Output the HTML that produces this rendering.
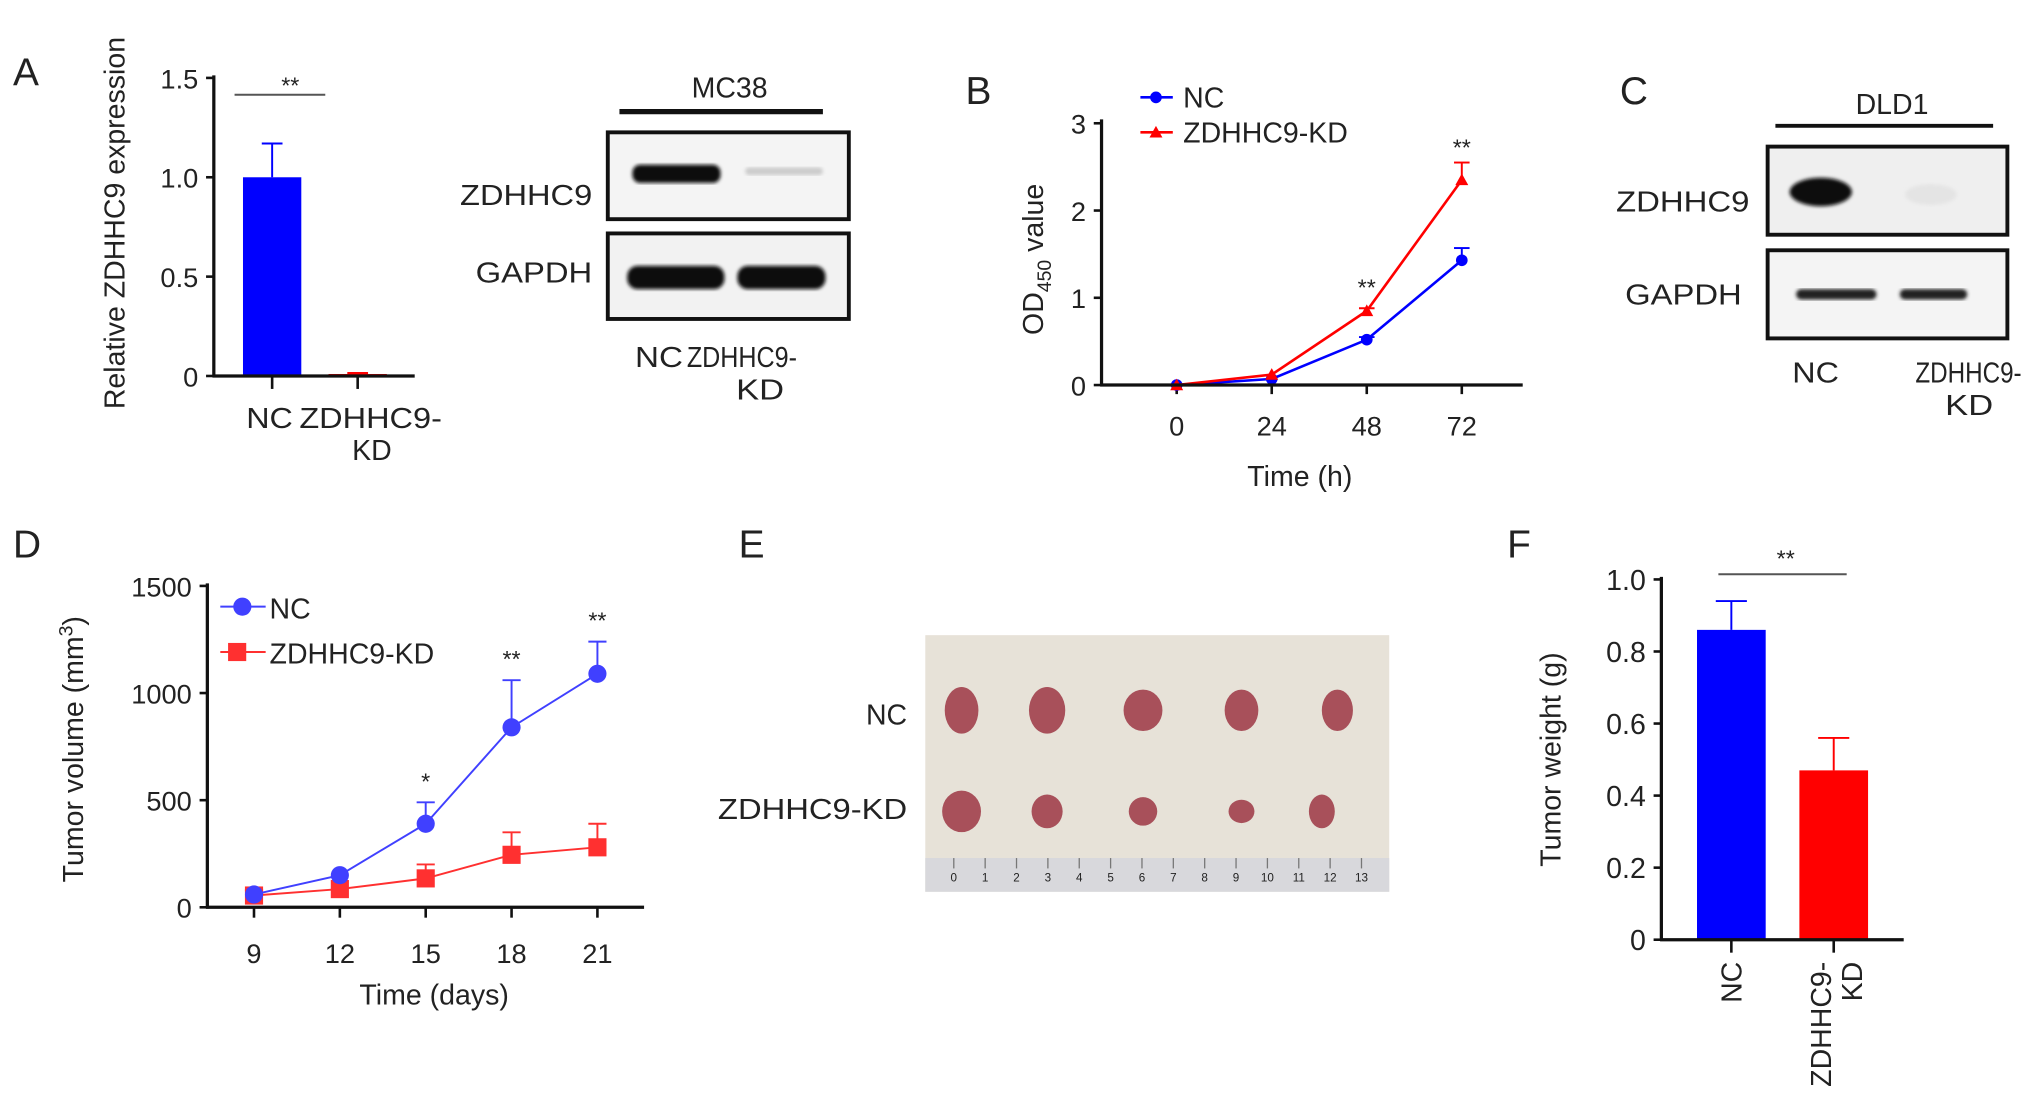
<!DOCTYPE html>
<html><head><meta charset="utf-8"><style>
html,body{margin:0;padding:0;background:#fff}
svg{display:block}
text{font-family:"Liberation Sans",Arial,sans-serif;fill:#222}
</style></head><body>
<svg id="fig" xmlns="http://www.w3.org/2000/svg" width="2032" height="1120" viewBox="0 0 1568 864">
<defs>
<filter id="blur2"><feGaussianBlur stdDeviation="1.5"/></filter>
</defs>
<g font-size="30">
<text x="10" y="66">A</text>
<text x="745" y="80">B</text>
<text x="1250" y="80">C</text>
<text x="10" y="430">D</text>
<text x="570" y="430">E</text>
<text x="1163" y="430">F</text>
</g>

<!-- MC38 blot -->
<g>
<text x="563" y="75" font-size="22" text-anchor="middle">MC38</text>
<line x1="478" y1="86" x2="635" y2="86" stroke="#111" stroke-width="4"/>
<rect x="469" y="102" width="186" height="67" fill="#f4f4f4" stroke="#111" stroke-width="3"/>
<rect x="469" y="180" width="186" height="66" fill="#f2f2f2" stroke="#111" stroke-width="3"/>
<rect x="488" y="127" width="68" height="14" rx="6" fill="#0a0a0a" filter="url(#blur2)"/>
<rect x="575" y="129" width="60" height="6" rx="3" fill="#ccc" filter="url(#blur2)"/>
<rect x="484" y="205" width="75" height="18" rx="8" fill="#0a0a0a" filter="url(#blur2)"/>
<rect x="569" y="205" width="68" height="18" rx="8" fill="#0a0a0a" filter="url(#blur2)"/>
<text x="355" y="158" font-size="22" textLength="102" lengthAdjust="spacingAndGlyphs">ZDHHC9</text>
<text x="367" y="218" font-size="22" textLength="90" lengthAdjust="spacingAndGlyphs">GAPDH</text>
<text x="490" y="283" font-size="22" textLength="37" lengthAdjust="spacingAndGlyphs">NC</text>
<text x="530" y="283" font-size="22" textLength="85" lengthAdjust="spacingAndGlyphs">ZDHHC9-</text>
<text x="568" y="308" font-size="22" textLength="37" lengthAdjust="spacingAndGlyphs">KD</text>
</g>
<!-- DLD1 blot -->
<g>
<text x="1460" y="88" font-size="22" text-anchor="middle">DLD1</text>
<line x1="1370" y1="97" x2="1538" y2="97" stroke="#111" stroke-width="3"/>
<rect x="1364" y="113" width="185" height="68" fill="#efefef" stroke="#111" stroke-width="3"/>
<rect x="1364" y="193" width="185" height="68" fill="#f4f4f4" stroke="#111" stroke-width="3"/>
<ellipse cx="1405" cy="148" rx="24" ry="11" fill="#0a0a0a" filter="url(#blur2)"/>
<ellipse cx="1490" cy="150" rx="20" ry="8" fill="#e4e4e4" filter="url(#blur2)"/>
<rect x="1386" y="223" width="62" height="8" rx="4" fill="#222" filter="url(#blur2)"/>
<rect x="1466" y="223" width="52" height="8" rx="4" fill="#222" filter="url(#blur2)"/>
<text x="1247" y="163" font-size="22" textLength="103" lengthAdjust="spacingAndGlyphs">ZDHHC9</text>
<text x="1254" y="235" font-size="22" textLength="90" lengthAdjust="spacingAndGlyphs">GAPDH</text>
<text x="1383" y="295" font-size="22" textLength="36" lengthAdjust="spacingAndGlyphs">NC</text>
<text x="1478" y="295" font-size="22" textLength="82" lengthAdjust="spacingAndGlyphs">ZDHHC9-</text>
<text x="1501" y="320" font-size="22" textLength="37" lengthAdjust="spacingAndGlyphs">KD</text>
</g>
<!-- E photo -->
<g>
<rect x="714" y="490" width="358" height="198" fill="#e7e2d8"/>
<rect x="714" y="662" width="358" height="26" fill="#d8d8dc"/>
<g id="ruler" stroke="#777" stroke-width="1"></g>
<g id="tumors"></g>
<text x="700" y="559" font-size="22" text-anchor="end">NC</text>
<text x="700" y="632" font-size="22" text-anchor="end" textLength="146" lengthAdjust="spacingAndGlyphs">ZDHHC9-KD</text>
</g>
<g id="chartA"></g><g id="chartB"></g><g id="chartD"></g><g id="chartF"></g>
</svg>
<script>
// ---- data ----
const aCategories=["NC","ZDHHC9-KD"];
const aValues=[1.0,0.01];
const aErrors=[0.17,0.005];
const aTicks=[0,0.5,1.0,1.5];
const aTickLabels=["0","0.5","1.0","1.5"];

const bTimes=[0,24,48,72];
const bNC=[0,0.07,0.52,1.43];
const bNCErr=[0,0,0.03,0.14];
const bKD=[0,0.12,0.85,2.35];
const bKDErr=[0,0,0.03,0.2];
const bTicksY=[0,1,2,3];

const dDays=[9,12,15,18,21];
const dNC=[60,150,390,840,1090];
const dNCErr=[0,0,100,220,150];
const dKD=[55,85,135,245,280];
const dKDErr=[25,0,65,105,110];
const dTicksY=[0,500,1000,1500];
const dStars=["","","*","**","**"];

const fCategories=["NC","ZDHHC9-KD"];
const fValues=[0.86,0.47];
const fErrors=[0.08,0.09];
const fTicks=[0,0.2,0.4,0.6,0.8,1.0];
const fTickLabels=["0","0.2","0.4","0.6","0.8","1.0"];

const NS="http://www.w3.org/2000/svg";
function el(parent,tag,attrs,txt){const e=document.createElementNS(NS,tag);for(const k in attrs)e.setAttribute(k,attrs[k]);if(txt!==undefined)e.textContent=txt;parent.appendChild(e);return e;}
function lin(d0,d1,r0,r1){return v=>r0+(v-d0)/(d1-d0)*(r1-r0);}

// ---- Panel A ----
(function(){
const g=document.getElementById('chartA');
const y=lin(0,1.5,290,60);
const bx=[210,276], bw=45, cols=["#0000ff","#ff0000"];
aTicks.forEach((t,i)=>{el(g,'line',{x1:159,y1:y(t),x2:165,y2:y(t),stroke:'#111','stroke-width':2});
const lb=el(g,'text',{x:153,y:y(t)+8,'font-size':21,'text-anchor':'end'},aTickLabels[i]);
});
aValues.forEach((v,i)=>{
el(g,'line',{x1:bx[i],y1:y(v),x2:bx[i],y2:y(v+aErrors[i]),stroke:cols[i],'stroke-width':1.5});
el(g,'line',{x1:bx[i]-8,y1:y(v+aErrors[i]),x2:bx[i]+8,y2:y(v+aErrors[i]),stroke:cols[i],'stroke-width':1.5});
const r=el(g,'rect',{x:bx[i]-bw/2,y:y(v),width:bw,height:Math.max(1.5,y(0)-y(v)),fill:cols[i]});

el(g,'line',{x1:bx[i],y1:290,x2:bx[i],y2:300,stroke:'#111','stroke-width':2});});
el(g,'line',{x1:165,y1:58,x2:165,y2:291,stroke:'#111','stroke-width':2.5});
el(g,'line',{x1:164,y1:290,x2:320,y2:290,stroke:'#111','stroke-width':2.5});
el(g,'line',{x1:181,y1:73,x2:251,y2:73,stroke:'#555','stroke-width':1.5});
el(g,'text',{x:224,y:72,'font-size':18,'text-anchor':'middle'},'**');
el(g,'text',{x:190,y:330,'font-size':22,textLength:36,lengthAdjust:'spacingAndGlyphs'},aCategories[0]);
el(g,'text',{x:231,y:330,'font-size':22,textLength:110,lengthAdjust:'spacingAndGlyphs'},'ZDHHC9-');
el(g,'text',{x:287,y:355,'font-size':22,'text-anchor':'middle'},'KD');
const t=el(g,'text',{transform:'translate(96,172) rotate(-90)','font-size':22,'text-anchor':'middle'},'Relative ZDHHC9 expression');

})();

// ---- Panel B ----
(function(){
const g=document.getElementById('chartB');
const x=lin(0,72,908,1128), y=lin(0,3,297,95);
bTicksY.forEach(t=>{el(g,'line',{x1:844,y1:y(t),x2:850,y2:y(t),stroke:'#111','stroke-width':2});
const lb=el(g,'text',{x:838,y:y(t)+8,'font-size':21,'text-anchor':'end'},String(t));
});
bTimes.forEach(t=>{el(g,'line',{x1:x(t),y1:297,x2:x(t),y2:304,stroke:'#111','stroke-width':2});
const lb=el(g,'text',{x:x(t),y:336,'font-size':21,'text-anchor':'middle'},String(t));
});
function series(vals,errs,col,mk,name){
const pts=vals.map((v,i)=>x(bTimes[i])+','+y(v)).join(' ');
const pl=el(g,'polyline',{points:pts,fill:'none',stroke:col,'stroke-width':2});

vals.forEach((v,i)=>{if(errs[i]>0){el(g,'line',{x1:x(bTimes[i]),y1:y(v),x2:x(bTimes[i]),y2:y(v+errs[i]),stroke:col,'stroke-width':1.5});
el(g,'line',{x1:x(bTimes[i])-6,y1:y(v+errs[i]),x2:x(bTimes[i])+6,y2:y(v+errs[i]),stroke:col,'stroke-width':1.5});}
const m=mk==='c'?el(g,'circle',{cx:x(bTimes[i]),cy:y(v),r:4.5,fill:col}):el(g,'polygon',{points:`${x(bTimes[i])-5},${y(v)+4} ${x(bTimes[i])+5},${y(v)+4} ${x(bTimes[i])},${y(v)-5}`,fill:col});
});}
series(bNC,bNCErr,'#0000ff','c','b-nc');
series(bKD,bKDErr,'#ff0000','t','b-kd');
el(g,'line',{x1:850,y1:92,x2:850,y2:298,stroke:'#111','stroke-width':2.5});
el(g,'line',{x1:849,y1:297,x2:1175,y2:297,stroke:'#111','stroke-width':2.5});
el(g,'text',{x:x(48),y:228,'font-size':18,'text-anchor':'middle'},'**');
el(g,'text',{x:x(72),y:120,'font-size':18,'text-anchor':'middle'},'**');
el(g,'line',{x1:880,y1:75,x2:905,y2:75,stroke:'#0000ff','stroke-width':2});el(g,'circle',{cx:892,cy:75,r:4.5,fill:'#0000ff'});
el(g,'text',{x:913,y:83,'font-size':22},'NC');
el(g,'line',{x1:880,y1:102,x2:905,y2:102,stroke:'#ff0000','stroke-width':2});el(g,'polygon',{points:'887,106 897,106 892,97',fill:'#ff0000'});
el(g,'text',{x:913,y:110,'font-size':22},'ZDHHC9-KD');
const t=el(g,'text',{transform:'translate(805,200) rotate(-90)','font-size':22,'text-anchor':'middle'});
el(t,'tspan',{},'OD');el(t,'tspan',{'font-size':15,dy:6},'450');el(t,'tspan',{dy:-6},' value');

el(g,'text',{x:1003,y:375,'font-size':22,'text-anchor':'middle'},'Time (h)');
})();

// ---- Panel D ----
(function(){
const g=document.getElementById('chartD');
const x=lin(9,21,196,461), y=lin(0,1500,700,452);
dTicksY.forEach(t=>{el(g,'line',{x1:154,y1:y(t),x2:160,y2:y(t),stroke:'#111','stroke-width':2});
const lb=el(g,'text',{x:148,y:y(t)+8,'font-size':21,'text-anchor':'end'},String(t));
});
dDays.forEach((t,i)=>{el(g,'line',{x1:x(t),y1:700,x2:x(t),y2:708,stroke:'#111','stroke-width':2});
const lb=el(g,'text',{x:x(t),y:743,'font-size':21,'text-anchor':'middle'},String(t));
});
function series(vals,errs,col,mk,name){
vals.forEach((v,i)=>{if(errs[i]>0){el(g,'line',{x1:x(dDays[i]),y1:y(v),x2:x(dDays[i]),y2:y(v+errs[i]),stroke:col,'stroke-width':1.5});
el(g,'line',{x1:x(dDays[i])-7,y1:y(v+errs[i]),x2:x(dDays[i])+7,y2:y(v+errs[i]),stroke:col,'stroke-width':1.5});}});
const pl=el(g,'polyline',{points:vals.map((v,i)=>x(dDays[i])+','+y(v)).join(' '),fill:'none',stroke:col,'stroke-width':1.5});

vals.forEach((v,i)=>{const m=mk==='c'?el(g,'circle',{cx:x(dDays[i]),cy:y(v),r:7,fill:col}):el(g,'rect',{x:x(dDays[i])-7,y:y(v)-7,width:14,height:14,fill:col});
});}
series(dKD,dKDErr,'#ff3030','s','d-kd');
series(dNC,dNCErr,'#4040ff','c','d-nc');
dStars.forEach((s,i)=>{if(s)el(g,'text',{x:x(dDays[i]),y:y(dNC[i]+dNCErr[i])-10,'font-size':18,'text-anchor':'middle'},s);});
el(g,'line',{x1:160,y1:450,x2:160,y2:701,stroke:'#111','stroke-width':2.5});
el(g,'line',{x1:159,y1:700,x2:497,y2:700,stroke:'#111','stroke-width':2.5});
el(g,'line',{x1:170,y1:468,x2:205,y2:468,stroke:'#4040ff','stroke-width':1.5});el(g,'circle',{cx:187,cy:468,r:7,fill:'#4040ff'});
el(g,'text',{x:208,y:477,'font-size':22},'NC');
el(g,'line',{x1:170,y1:503,x2:205,y2:503,stroke:'#ff3030','stroke-width':1.5});el(g,'rect',{x:176,y:496,width:14,height:14,fill:'#ff3030'});
el(g,'text',{x:208,y:512,'font-size':22},'ZDHHC9-KD');
const t=el(g,'text',{transform:'translate(64,578) rotate(-90)','font-size':22,'text-anchor':'middle'});
el(t,'tspan',{},'Tumor volume (mm');el(t,'tspan',{'font-size':15,dy:-8},'3');el(t,'tspan',{dy:8},')');

el(g,'text',{x:335,y:775,'font-size':22,'text-anchor':'middle'},'Time (days)');
})();

// ---- Panel F ----
(function(){
const g=document.getElementById('chartF');
const y=lin(0,1.0,725,447);
const ax=1282;
const bx=[1336,1415], bw=53, cols=["#0000ff","#ff0000"];
fTicks.forEach((t,i)=>{el(g,'line',{x1:ax-6,y1:y(t),x2:ax,y2:y(t),stroke:'#111','stroke-width':2});
const lb=el(g,'text',{x:ax-12,y:y(t)+8,'font-size':22,'text-anchor':'end'},fTickLabels[i]);
});
fValues.forEach((v,i)=>{
el(g,'line',{x1:bx[i],y1:y(v),x2:bx[i],y2:y(v+fErrors[i]),stroke:cols[i],'stroke-width':1.5});
el(g,'line',{x1:bx[i]-12,y1:y(v+fErrors[i]),x2:bx[i]+12,y2:y(v+fErrors[i]),stroke:cols[i],'stroke-width':1.5});
const r=el(g,'rect',{x:bx[i]-bw/2,y:y(v),width:bw,height:y(0)-y(v),fill:cols[i]});

el(g,'line',{x1:bx[i],y1:725,x2:bx[i],y2:735,stroke:'#111','stroke-width':2});});
el(g,'line',{x1:ax,y1:445,x2:ax,y2:726,stroke:'#111','stroke-width':2.5});
el(g,'line',{x1:ax-1,y1:725,x2:1469,y2:725,stroke:'#111','stroke-width':2.5});
el(g,'line',{x1:1326,y1:443,x2:1425,y2:443,stroke:'#555','stroke-width':1.5});
el(g,'text',{x:1378,y:437,'font-size':18,'text-anchor':'middle'},'**');
el(g,'text',{transform:`translate(${bx[0]+8},742) rotate(-90)`,'font-size':22,'text-anchor':'end'},fCategories[0]);
el(g,'text',{transform:`translate(${bx[1]-2},742) rotate(-90)`,'font-size':22,'text-anchor':'end'},'ZDHHC9-');
el(g,'text',{transform:`translate(${bx[1]+22},742) rotate(-90)`,'font-size':22,'text-anchor':'end'},'KD');
const t=el(g,'text',{transform:'translate(1204,586) rotate(-90)','font-size':22,'text-anchor':'middle'},'Tumor weight (g)');

})();

// ---- photo decoration ----
(function(){
const r=document.getElementById('ruler');
for(let i=0;i<14;i++){const xx=736+i*24.2;el(r,'line',{x1:xx,y1:662,x2:xx,y2:670});
el(r,'text',{x:xx,y:680,'font-size':9,'text-anchor':'middle',fill:'#444',stroke:'none'},String(i));}
const tg=document.getElementById('tumors');
const tx=[742,808,882,958,1032];
const ncS=[[13,18],[14,18],[15,16],[13,16],[12,16]];
const kdS=[[15,16],[12,13],[11,11],[10,9],[10,13]];
tx.forEach((xx,i)=>{
el(tg,'ellipse',{cx:xx,cy:548,rx:ncS[i][0],ry:ncS[i][1],fill:'#a8505a'});
el(tg,'ellipse',{cx:xx+(i===4?-12:0),cy:626,rx:kdS[i][0],ry:kdS[i][1],fill:'#a8505a'});});
})();
</script>
</body></html>
